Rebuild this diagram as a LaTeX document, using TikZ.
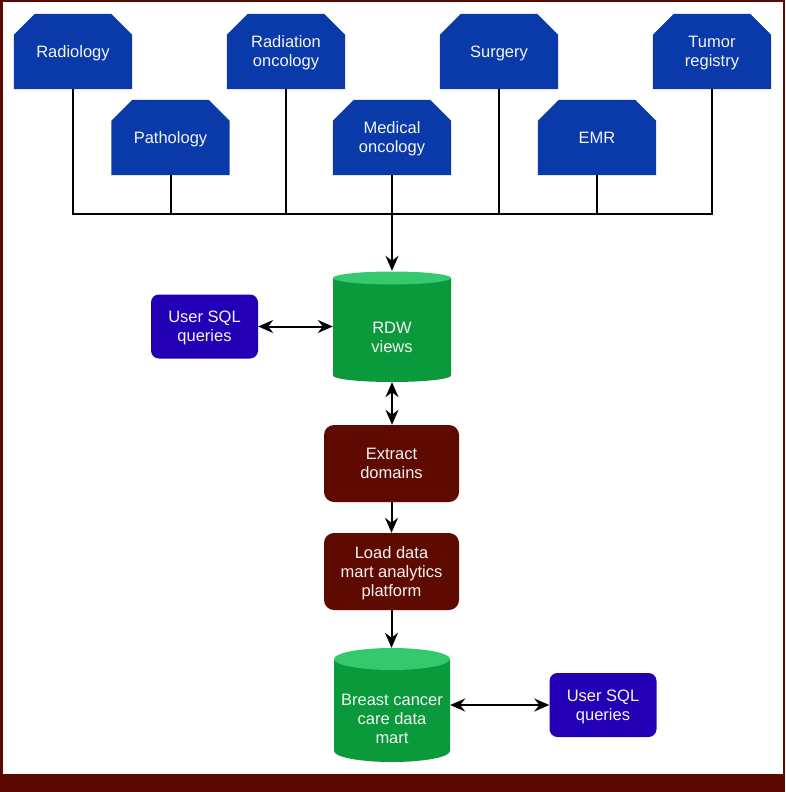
\documentclass[tikz,border=0pt]{standalone}
\usepackage{fontspec}
\setmainfont{Liberation Sans}
\usetikzlibrary{arrows.meta,backgrounds,calc}
\definecolor{srcblue}{HTML}{0A3AAA}
\definecolor{sqlblue}{HTML}{2300B5}
\definecolor{procred}{HTML}{5F0A00}
\definecolor{framered}{HTML}{5A0A00}
\definecolor{cylbody}{HTML}{0A9A3C}
\definecolor{cyltop}{HTML}{35C86C}
\definecolor{txtwhite}{HTML}{F4F4F4}
\tikzset{
  boxfont/.style={font=\fontsize{16.5}{19}\selectfont},
  src/.style={boxfont, minimum width=118pt, minimum height=75pt, inner sep=0pt, text depth=0pt, text=txtwhite, align=center},
  sqlbox/.style={boxfont, fill=sqlblue, rounded corners=8pt, minimum width=107pt, minimum height=64pt, inner sep=0pt, text depth=0pt, text=txtwhite, align=center},
  procbox/.style={boxfont, fill=procred, rounded corners=10pt, minimum width=135pt, minimum height=77pt, inner sep=0pt, text depth=0pt, text=txtwhite, align=center},
  cylarea/.style={minimum width=118pt, inner sep=0pt},
  cyltext/.style={boxfont, text=txtwhite, align=center, inner sep=0pt},
  conn/.style={line width=2pt, black},
  arr/.style={conn, -{Stealth[length=15pt,width=13pt,inset=5pt]}},
  darr/.style={conn, {Stealth[length=15pt,width=13pt,inset=5pt]}-{Stealth[length=15pt,width=13pt,inset=5pt]}},
}
\begin{document}
\begin{tikzpicture}[x=1pt,y=-1pt]
\useasboundingbox (0,0) rectangle (785,792);
% frame
\fill[framered] (0,774) rectangle (785,792);
\draw[framered, line width=2.5pt] (1.25,774) -- (1.25,1.25) -- (783.75,1.25) -- (783.75,774);

% cylinders (shapes)
\fill[cylbody] (333,278) -- (333,375.5) arc[start angle=180,end angle=360,x radius=59pt,y radius=6.5pt] -- (451,278) -- cycle;
\fill[cyltop] (392,278) ellipse [x radius=59pt, y radius=6.5pt];
\fill[cylbody] (334,659) -- (334,751) arc[start angle=180,end angle=360,x radius=58pt,y radius=11pt] -- (450,659) -- cycle;
\fill[cyltop] (392,659) ellipse [x radius=58pt, y radius=11pt];

% source nodes
\node[src] (rad) at (73,51.5) {Radiology};
\node[src] (pat) at (170.5,137.5) {Pathology};
\node[src] (rot) at (286,51.5) {Radiation\\oncology};
\node[src] (med) at (392,137.5) {Medical\\oncology};
\node[src] (sur) at (499,51.5) {Surgery};
\node[src] (emr) at (597,137.5) {EMR};
\node[src] (tum) at (712,51.5) {Tumor\\registry};
\begin{scope}[on background layer]
\foreach \n in {rad,pat,rot,med,sur,emr,tum}{
  \fill[srcblue] (\n.south west) -- ([yshift=-21pt]\n.north west) -- ([xshift=21pt]\n.north west)
    -- ([xshift=-21pt]\n.north east) -- ([yshift=-21pt]\n.north east) -- (\n.south east) -- cycle;
}
\end{scope}

% cylinder nodes
\node[cylarea, minimum height=111pt] (rdw) at (392,326.5) {};
\node[cyltext] (rdwt) at (392,337.5) {RDW\\views};
\node[cylarea, minimum width=116pt, minimum height=114pt] (bcdm) at (392,705) {};
\node[cyltext] (bcdmt) at (392,718.5) {Breast cancer\\care data\\mart};

% other nodes
\node[sqlbox] (sql1) at (204.5,326.5) {User SQL\\queries};
\node[sqlbox] (sql2) at (603,705) {User SQL\\queries};
\node[procbox] (ext) at (391.5,463.5) {Extract\\domains};
\node[procbox] (load) at (391.5,571.5) {Load data\\mart analytics\\platform};

% bus
\coordinate (bus) at (392,214);
\draw[conn] (rad.south) -- (rad.south |- bus) -- (tum.south |- bus) -- (tum.south);
\foreach \n in {pat,rot,med,sur,emr}{
  \draw[conn] (\n.south) -- (\n.south |- bus);
}
\draw[arr] (bus) -- (rdw.north);
\draw[darr] (sql1.east) -- (rdw.west);
\draw[darr] (rdw.south) -- (rdw.south |- ext.north);
\draw[arr] (ext.south) -- (load.north);
\draw[arr] (load.south) -- (load.south |- bcdm.north);
\draw[darr] (bcdm.east) -- (sql2.west);
\end{tikzpicture}
\end{document}
